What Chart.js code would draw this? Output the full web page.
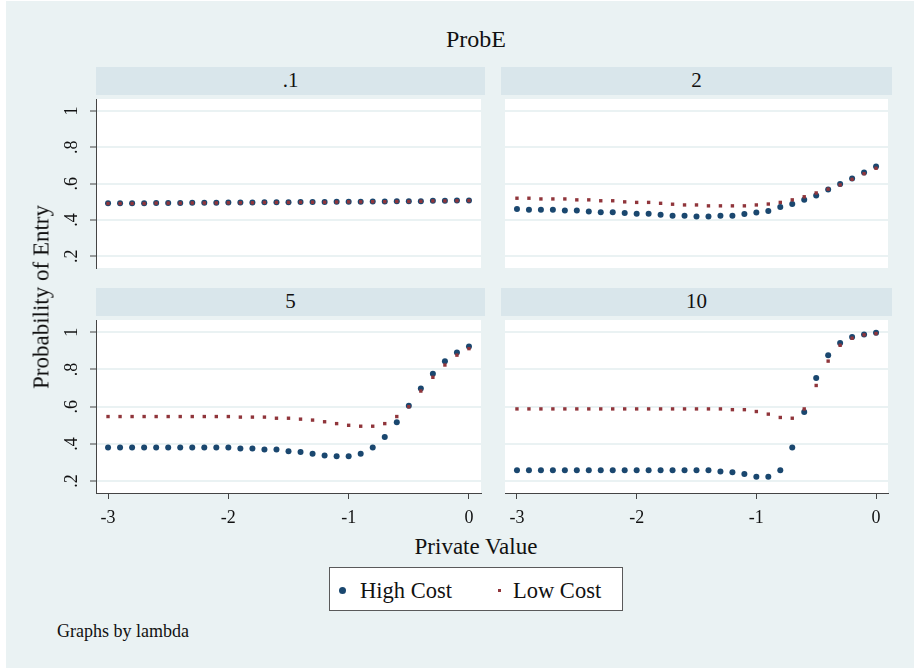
<!DOCTYPE html>
<html>
<head>
<meta charset="utf-8">
<script src="https://cdn.jsdelivr.net/npm/chart.js@4.4.0/dist/chart.umd.min.js"></script>
<style>
body { margin: 0; background: #fff; font-family: "Liberation Serif", serif; color: #111; }
#page { position: absolute; left: 6px; top: 1px; width: 908px; height: 667px; background: #eaf2f3; }
.txt { position: absolute; line-height: 1; white-space: nowrap; }
.strip { position: absolute; background: #d9e6eb; height: 28px; }
.strip span { position: absolute; left: 0; right: 0; text-align: center; line-height: 1; font-size: 21px; }
canvas { position: absolute; }
#legend { position: absolute; left: 329px; top: 567px; width: 292px; height: 42px; background: #fff; border: 1px solid #5a5a5a; }
</style>
</head>
<body>
<div id="page"></div>

<div class="txt" style="left:0;width:952px;text-align:center;top:27px;font-size:24px;">ProbE</div>

<div class="strip" style="left:96px;top:67px;width:389px;"><span id="h1" style="top:3px;"></span></div>
<div class="strip" style="left:501px;top:67px;width:391px;"><span id="h2" style="top:3px;"></span></div>
<div class="strip" style="left:96px;top:288px;width:389px;"><span id="h3" style="top:3px;"></span></div>
<div class="strip" style="left:501px;top:288px;width:391px;"><span id="h4" style="top:3px;"></span></div>

<canvas id="p1" width="449" height="177" style="left:36px;top:95px;"></canvas>
<canvas id="p2" width="391" height="177" style="left:501px;top:95px;"></canvas>
<canvas id="p3" width="449" height="217" style="left:36px;top:316px;"></canvas>
<canvas id="p4" width="391" height="217" style="left:501px;top:316px;"></canvas>

<div class="txt" style="left:0;width:952px;text-align:center;top:535px;font-size:23px;">Private Value</div>
<div class="txt" style="left:41px;top:297px;font-size:23px;transform:translate(-50%,-50%) rotate(-90deg);">Probability of Entry</div>

<div id="legend">
  <div style="position:absolute;left:9px;top:19px;width:7px;height:7px;border-radius:50%;background:#1a476f;"></div>
  <div class="txt" style="left:30px;top:12px;font-size:22.5px;">High Cost</div>
  <div style="position:absolute;left:168px;top:21px;width:3px;height:3px;background:#90353b;"></div>
  <div class="txt" style="left:183px;top:12px;font-size:22.5px;">Low Cost</div>
</div>

<div class="txt" style="left:57px;top:622px;font-size:18px;">Graphs by lambda</div>

<script>
// panel labels (lambda)
const lambdas = ['.1', '2', '5', '10'];

// x values shared by all panels
const privateValue = [-3, -2.9, -2.8, -2.7, -2.6, -2.5, -2.4, -2.3, -2.2, -2.1,
  -2, -1.9, -1.8, -1.7, -1.6, -1.5, -1.4, -1.3, -1.2, -1.1,
  -1, -0.9, -0.8, -0.7, -0.6, -0.5, -0.4, -0.3, -0.2, -0.1, 0];

const xTicks = [-3, -2, -1, 0];
const yTicks = [0.2, 0.4, 0.6, 0.8, 1];
const yLabels = ['.2', '.4', '.6', '.8', '1'];

// lambda = .1
const high01 = [0.492, 0.492, 0.492, 0.492, 0.494, 0.494, 0.494, 0.495, 0.495, 0.495,
  0.496, 0.496, 0.496, 0.498, 0.498, 0.498, 0.499, 0.499, 0.499, 0.500,
  0.501, 0.501, 0.502, 0.502, 0.503, 0.503, 0.504, 0.506, 0.506, 0.507, 0.508];
const low01 = [0.491, 0.491, 0.491, 0.491, 0.493, 0.493, 0.493, 0.494, 0.494, 0.494,
  0.495, 0.495, 0.495, 0.497, 0.497, 0.497, 0.498, 0.498, 0.498, 0.499,
  0.500, 0.500, 0.501, 0.501, 0.502, 0.502, 0.503, 0.505, 0.505, 0.506, 0.507];

// lambda = 2
const high2 = [0.460, 0.457, 0.457, 0.457, 0.452, 0.452, 0.447, 0.443, 0.443, 0.438,
  0.434, 0.434, 0.429, 0.424, 0.424, 0.420, 0.420, 0.424, 0.424, 0.433,
  0.441, 0.450, 0.471, 0.488, 0.511, 0.535, 0.568, 0.598, 0.629, 0.661, 0.694];
const low2 = [0.520, 0.520, 0.516, 0.516, 0.516, 0.511, 0.511, 0.506, 0.506, 0.500,
  0.497, 0.497, 0.492, 0.487, 0.483, 0.483, 0.478, 0.478, 0.478, 0.478,
  0.483, 0.488, 0.497, 0.511, 0.528, 0.549, 0.570, 0.593, 0.624, 0.655, 0.685];

// lambda = 5
const high5 = [0.381, 0.381, 0.381, 0.381, 0.381, 0.381, 0.381, 0.381, 0.381, 0.381,
  0.381, 0.375, 0.375, 0.370, 0.370, 0.361, 0.356, 0.347, 0.338, 0.333,
  0.333, 0.347, 0.381, 0.437, 0.516, 0.605, 0.698, 0.777, 0.844, 0.891, 0.924];
const low5 = [0.547, 0.547, 0.547, 0.547, 0.547, 0.547, 0.547, 0.547, 0.547, 0.547,
  0.547, 0.544, 0.544, 0.544, 0.538, 0.538, 0.533, 0.528, 0.519, 0.509,
  0.500, 0.495, 0.495, 0.509, 0.547, 0.600, 0.684, 0.758, 0.824, 0.877, 0.912];

// lambda = 10
const high10 = [0.258, 0.258, 0.258, 0.258, 0.258, 0.258, 0.258, 0.258, 0.258, 0.258,
  0.258, 0.258, 0.258, 0.258, 0.258, 0.258, 0.258, 0.252, 0.247, 0.238,
  0.224, 0.224, 0.258, 0.381, 0.572, 0.754, 0.877, 0.942, 0.975, 0.988, 0.998];
const low10 = [0.588, 0.588, 0.588, 0.588, 0.588, 0.588, 0.588, 0.588, 0.588, 0.588,
  0.588, 0.588, 0.588, 0.588, 0.588, 0.588, 0.588, 0.588, 0.584, 0.584,
  0.574, 0.560, 0.542, 0.538, 0.588, 0.714, 0.845, 0.930, 0.968, 0.986, 0.993];

lambdas.forEach((l, i) => { document.getElementById('h' + (i + 1)).textContent = l; });

const tickFont = { family: 'Liberation Serif', size: 18 };

// fond blanc de la zone de tracé
const plotBg = {
  id: 'plotBg',
  beforeDraw(chart) {
    const a = chart.chartArea;
    chart.ctx.save();
    chart.ctx.fillStyle = '#fff';
    chart.ctx.fillRect(a.left, a.top, a.right - a.left, a.bottom - a.top);
    chart.ctx.restore();
  }
};

function makePanel(id, high, low, showY, showX) {
  const pts = arr => privateValue.map((x, i) => ({ x: x, y: arr[i] }));
  new Chart(document.getElementById(id), {
    type: 'scatter',
    data: {
      datasets: [
        { label: 'High Cost', data: pts(high), backgroundColor: '#1a476f', borderWidth: 0, pointRadius: 3, order: 2 },
        { label: 'Low Cost', data: pts(low), backgroundColor: '#90353b', borderWidth: 0, pointStyle: 'rect', pointRadius: 2.4, order: 1 }
      ]
    },
    options: {
      responsive: false,
      animation: false,
      devicePixelRatio: 1,
      layout: { padding: 0 },
      plugins: { legend: { display: false }, tooltip: { enabled: false } },
      scales: {
        x: {
          type: 'linear', min: -3.1, max: 0.1, display: showX,
          afterBuildTicks: a => { a.ticks = xTicks.map(v => ({ value: v })); },
          afterFit: a => { a.height = showX ? 40 : 0; a.paddingLeft = 0; a.paddingRight = 0; },
          grid: { drawOnChartArea: false, tickLength: 6, tickColor: '#444', tickWidth: 1 },
          border: { color: '#444', width: 1 },
          ticks: { font: tickFont, color: '#111', padding: 8, maxRotation: 0, callback: v => String(v) }
        },
        y: {
          type: 'linear', min: 0.136, max: 1.066,
          afterBuildTicks: a => { a.ticks = yTicks.map(v => ({ value: v })); },
          afterFit: a => { a.width = showY ? 60 : 0; a.paddingTop = 0; a.paddingBottom = 0; },
          grid: { color: '#eaf2f3', lineWidth: 2, drawTicks: showY, tickLength: 6, tickColor: '#444', tickWidth: 1 },
          border: { display: showY, color: '#444', width: 1 },
          ticks: {
            display: showY, minRotation: 90, maxRotation: 90, crossAlign: 'center', padding: 11,
            font: tickFont, color: '#111',
            callback: v => yLabels[yTicks.indexOf(v)]
          }
        }
      }
    },
    plugins: [plotBg]
  });
}

makePanel('p1', high01, low01, true, false);
makePanel('p2', high2, low2, false, false);
makePanel('p3', high5, low5, true, true);
makePanel('p4', high10, low10, false, true);
</script>
</body>
</html>
